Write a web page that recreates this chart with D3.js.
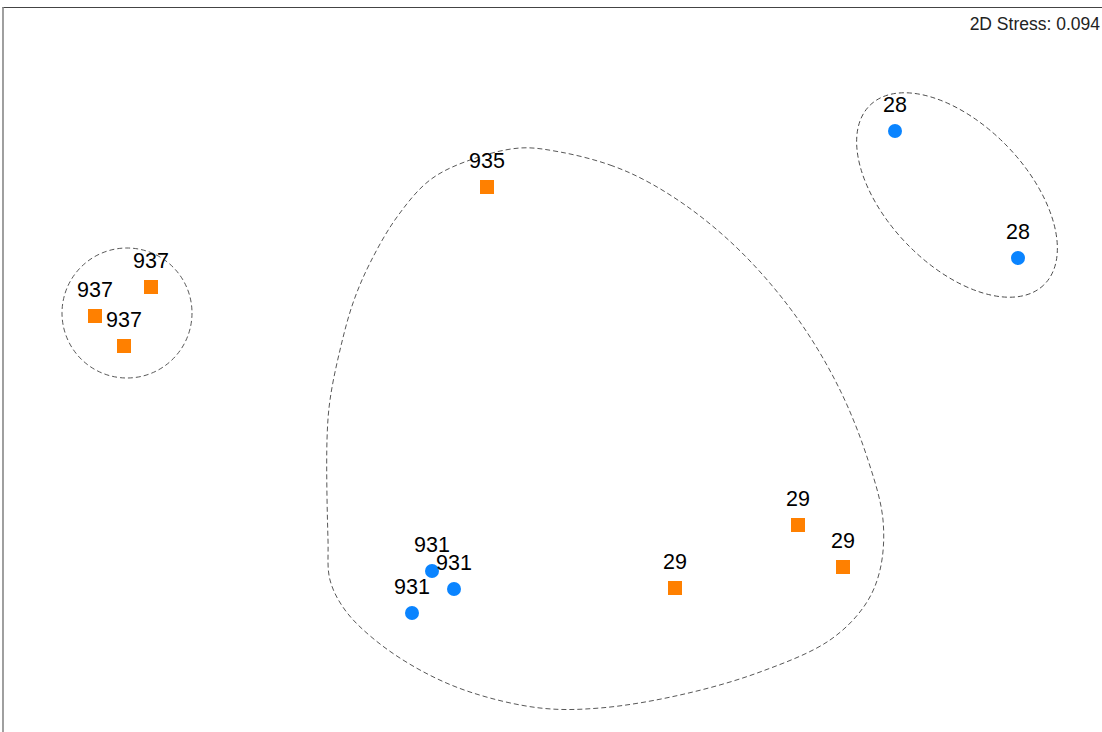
<!DOCTYPE html>
<html>
<head>
<meta charset="utf-8">
<script src="https://cdn.jsdelivr.net/npm/d3@7"></script>
<style>
  html, body { margin: 0; padding: 0; background: #fff; }
  svg { display: block; }
</style>
</head>
<body>
<svg id="chart" width="1102" height="732"></svg>
<script>
// NMDS ordination of samples (axis units)
const sampleLabels = ["937", "937", "937", "935", "931", "931", "931", "29", "29", "29", "28", "28"];
const sampleGroup  = ["A", "A", "A", "A", "B", "B", "B", "A", "A", "A", "B", "B"];
const mds1 = [-3.99, -4.55, -4.26, -0.63, -1.18, -0.96, -1.38, 1.25, 2.48, 2.93, 3.45, 4.68];
const mds2 = [ 0.79,  0.50,  0.20,  1.79, -2.05, -2.23, -2.47, -2.22, -1.59, -2.01, 2.35, 1.08];
const stressValue = 0.094;

// Similarity-level cluster outlines
const bigHullX = [0.10, 0.60, 1.00, 1.50, 2.00, 2.50, 2.90, 3.18, 3.33, 3.30, 3.15, 2.80, 2.10, 1.30, 0.50, -0.10, -0.80, -1.30, -1.75, -2.05, -2.20, -2.22, -2.23, -2.20, -2.10, -1.97, -1.80, -1.53, -1.20, -0.80, -0.30];
const bigHullY = [2.14, 2.01, 1.83, 1.50, 1.05, 0.44, -0.24, -0.94, -1.54, -2.04, -2.39, -2.74, -3.06, -3.29, -3.42, -3.42, -3.26, -3.04, -2.74, -2.44, -2.14, -1.74, -0.74, -0.34, 0.16, 0.63, 1.03, 1.49, 1.86, 2.06, 2.18];
const ringCenter937 = [-4.23, 0.53];
const ringRadius937 = 0.65;
const ringCenter28 = [4.07, 1.71];
const ringAxes28 = [1.25, 0.70];
const ringAngle28 = 46;

const colors = { A: "#FF8000", B: "#0A84FF" };

const svg = d3.select("#chart");
const W = 1102, H = 732;

// equal-aspect scales: 100 px per axis unit
const x = d3.scaleLinear().domain([-5.5, 5.5]).range([0, 1100]);
const y = d3.scaleLinear().domain([-3.66, 3.66]).range([732, 0]);
const unit = x(1) - x(0);

// frame (top and left edges)
svg.append("line").attr("x1", 2.5).attr("x2", W).attr("y1", 7.5).attr("y2", 7.5)
  .attr("stroke", "#444").attr("stroke-width", 1.2);
svg.append("line").attr("x1", 3).attr("x2", 3).attr("y1", 7).attr("y2", H)
  .attr("stroke", "#888").attr("stroke-width", 1.6);

const dash = { stroke: "#444", width: 0.9, array: "5,3" };

// large cluster outline
const hullPts = bigHullX.map((v, i) => [x(v), y(bigHullY[i])]);
svg.append("path")
  .attr("d", d3.line().curve(d3.curveCatmullRomClosed.alpha(0.5))(hullPts))
  .attr("fill", "none").attr("stroke", dash.stroke).attr("stroke-width", dash.width)
  .attr("stroke-dasharray", dash.array);

// 937 ring
svg.append("circle")
  .attr("cx", x(ringCenter937[0])).attr("cy", y(ringCenter937[1]))
  .attr("r", ringRadius937 * unit)
  .attr("fill", "none").attr("stroke", dash.stroke).attr("stroke-width", dash.width)
  .attr("stroke-dasharray", dash.array);

// 28 ellipse
svg.append("ellipse")
  .attr("cx", 0).attr("cy", 0)
  .attr("rx", ringAxes28[0] * unit).attr("ry", ringAxes28[1] * unit)
  .attr("transform", `translate(${x(ringCenter28[0])},${y(ringCenter28[1])}) rotate(${ringAngle28})`)
  .attr("fill", "none").attr("stroke", dash.stroke).attr("stroke-width", dash.width)
  .attr("stroke-dasharray", dash.array);

// samples
const data = sampleLabels.map((lab, i) => ({ lab, g: sampleGroup[i], px: x(mds1[i]), py: y(mds2[i]) }));

const sq = 14, rad = 7;
const marks = svg.append("g");
marks.selectAll("rect").data(data.filter(d => d.g === "A")).join("rect")
  .attr("x", d => d.px - sq / 2).attr("y", d => d.py - sq / 2)
  .attr("width", sq).attr("height", sq)
  .attr("fill", colors.A);
marks.selectAll("circle").data(data.filter(d => d.g === "B")).join("circle")
  .attr("cx", d => d.px).attr("cy", d => d.py).attr("r", rad)
  .attr("fill", colors.B);

svg.append("g").selectAll("text").data(data).join("text")
  .attr("x", d => d.px).attr("y", d => d.py - 19)
  .attr("text-anchor", "middle")
  .attr("font-family", "Liberation Sans, Arial, sans-serif")
  .attr("font-size", 21.5)
  .attr("fill", "#000")
  .text(d => d.lab);

svg.append("text")
  .attr("x", 1100).attr("y", 30)
  .attr("text-anchor", "end")
  .attr("font-family", "Liberation Sans, Arial, sans-serif")
  .attr("font-size", 17.5)
  .attr("fill", "#222")
  .text("2D Stress: " + stressValue.toFixed(3));
</script>
</body>
</html>
